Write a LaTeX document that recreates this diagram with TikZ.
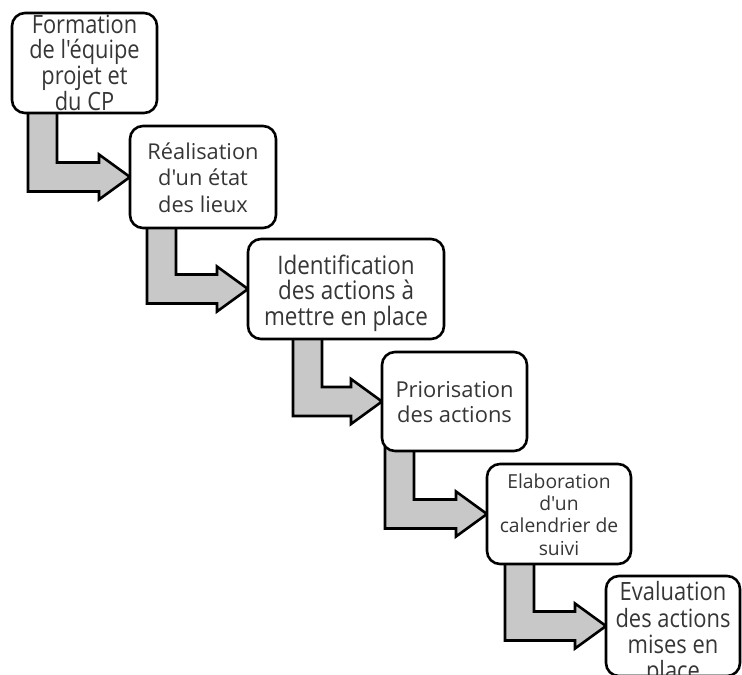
\documentclass[tikz,border=0pt]{standalone}
\usepackage{fontspec}
\newfontfamily\boxfont{Open Sans}[Ligatures=NoCommon]
\usetikzlibrary{calc,backgrounds}
\definecolor{txt}{HTML}{363636}
\definecolor{arrowgray}{HTML}{C8C8C8}
\tikzset{
  stepbox/.style={draw=black, line width=2.6pt, rounded corners=13pt, fill=white,
    inner sep=0pt, outer sep=0pt, text=txt},
  bentarrow/.style={draw=black, line width=2.6pt, fill=arrowgray, line join=miter},
}
% #1 parbox width, #2 font size, #3 baselineskip, #4 raise of first baseline, #5 stretch, #6 text
\newcommand{\bxtext}[6]{\raisebox{#4pt}[0pt][0pt]{\parbox[t]{#1pt}{\centering\boxfont\addfontfeatures{FakeStretch=#5}\fontsize{#2pt}{#3pt}\selectfont #6}}}
% #1 from node, #2 to node, #3 bar left x
\newcommand{\bendarrow}[3]{%
  \draw[bentarrow] let \p1=(#1.south), \p2=(#2.west) in
    (#3pt,\y1+4pt) -- (#3pt+29pt,\y1+4pt) -- (#3pt+29pt,\y2+14.5pt)
    -- (\x2-31pt,\y2+14.5pt) -- (\x2-31pt,\y2+22.5pt) -- (\x2,\y2)
    -- (\x2-31pt,\y2-22.5pt) -- (\x2-31pt,\y2-14.5pt) -- (#3pt,\y2-14.5pt) -- cycle;}
\begin{document}
\begin{tikzpicture}[x=1pt,y=-1pt]
\useasboundingbox (0,0) rectangle (742,675);
\node[stepbox, minimum width=145pt, minimum height=100pt] (b1) at (84.5,63)
  {\bxtext{140}{25.2}{25.6}{29.7}{0.865}{Formation\\de l'équipe\\projet et\\du CP}};
\node[stepbox, minimum width=146pt, minimum height=102pt] (b2) at (203,177)
  {\bxtext{140}{21.8}{26.5}{18}{1}{Réalisation\\d'un état\\des lieux}};
\node[stepbox, minimum width=196pt, minimum height=100pt] (b3) at (346,289)
  {\bxtext{190}{25.5}{25.3}{14.5}{0.88}{Identification\\des actions à\\mettre en place}};
\node[stepbox, minimum width=145pt, minimum height=99pt] (b4) at (454.5,401.5)
  {\bxtext{140}{21.9}{25}{4.5}{1}{Priorisation\\des actions}};
\node[stepbox, minimum width=144pt, minimum height=100pt] (b5) at (559,514)
  {\bxtext{140}{19.3}{22.4}{26}{1}{Elaboration\\d'un\\calendrier de\\suivi}};
\node[stepbox, minimum width=134pt, minimum height=100pt] (b6) at (673,626)
  {\bxtext{130}{25.2}{26.4}{25.3}{0.87}{Evaluation\\des actions\\mises en\\place}};
\begin{scope}[on background layer]
\bendarrow{b1}{b2}{28}
\bendarrow{b2}{b3}{147}
\bendarrow{b3}{b4}{293}
\bendarrow{b4}{b5}{385}
\bendarrow{b5}{b6}{505}
\end{scope}
\end{tikzpicture}
\end{document}
